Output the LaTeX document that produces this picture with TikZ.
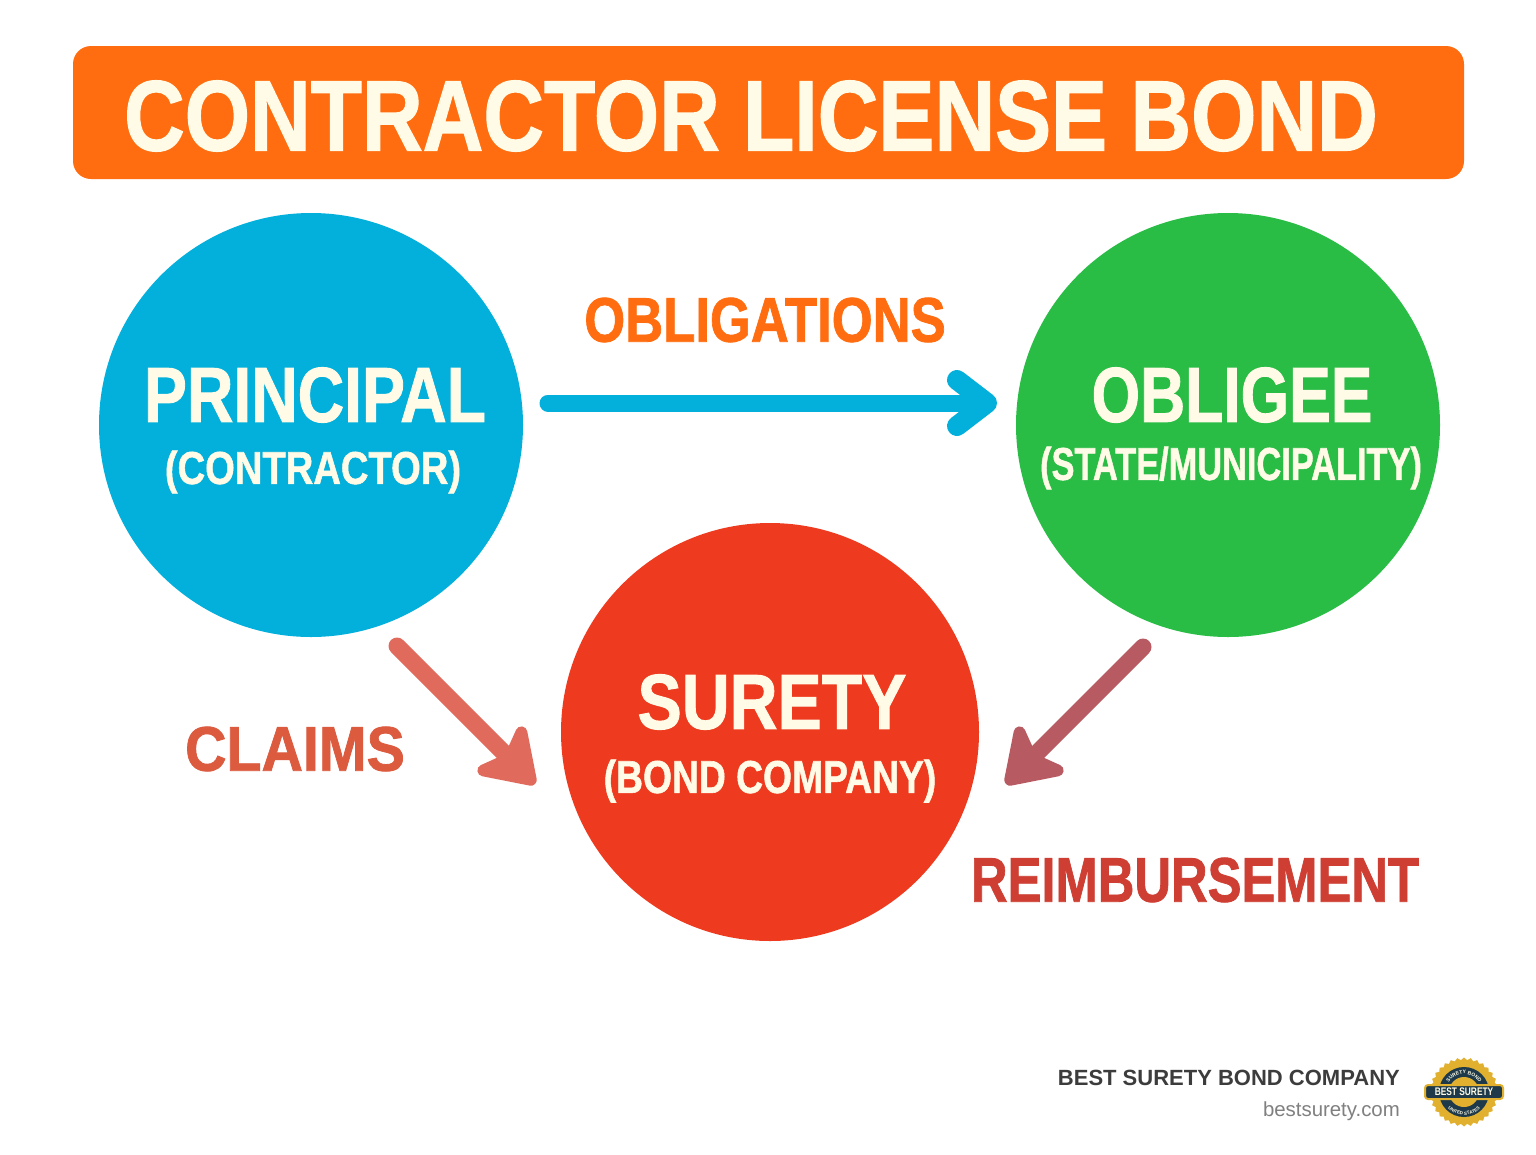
\documentclass[tikz,border=0pt]{standalone}
\usepackage{fontspec}
\setmainfont{Liberation Sans}[BoldFeatures={FakeBold=1.3}]
\newfontfamily\footfont{Liberation Sans}
\usetikzlibrary{arrows.meta}
\usetikzlibrary{shapes.geometric}
\usetikzlibrary{decorations.text}
\definecolor{titleorange}{HTML}{FF6D10}
\definecolor{titlecream}{HTML}{FFFBE6}
\definecolor{princblue}{HTML}{03AFDB}
\definecolor{obligreen}{HTML}{29BD46}
\definecolor{suretyred}{HTML}{EE3B20}
\definecolor{claimred}{HTML}{E06A5C}
\definecolor{claimtext}{HTML}{DC5A3E}
\definecolor{reimbarrow}{HTML}{B85A62}
\definecolor{reimbtext}{HTML}{CE3E32}
\definecolor{footdark}{HTML}{3C3C3C}
\definecolor{footgray}{HTML}{808080}
\definecolor{sealgold}{HTML}{E0B02E}
\definecolor{sealdark}{HTML}{1E3A4A}
\newcommand{\squeeze}[2]{\scalebox{#1}[1]{#2}}
\tikzset{
  party/.style={circle, minimum size=#1, inner sep=0pt},
  bigname/.style={text=titlecream, font=\fontsize{78}{78}\selectfont\bfseries},
  subname/.style={text=titlecream, font=\fontsize{46}{46}\selectfont\bfseries},
  edgename/.style={font=\fontsize{63}{63}\selectfont\bfseries},
  flow/.style={line width=17pt, line cap=round, line join=round, -{Straight Barb[length=30pt,width=46pt,line width=20pt,round]}},
  backflow/.style={line width=17pt, line cap=round, -{Stealth[length=62pt,width=82pt,inset=15pt,line width=12pt,round]}}
}
\begin{document}
\begin{tikzpicture}[x=1pt,y=-1pt]
\useasboundingbox (0,0) rectangle (1536,1154);
\fill[white] (0,0) rectangle (1536,1154);
\fill[titleorange, rounded corners=18pt] (73,46) rectangle (1464,179);
\node (title) at (751,116) [text=titlecream, font=\fontsize{100}{100}\selectfont\bfseries] {\squeeze{.84}{CONTRACTOR LICENSE BOND}};
\node[party=424pt, fill=princblue] (principal) at (311,425) {};
\node[party=424pt, fill=obligreen] (obligee) at (1228,425) {};
\node[party=418pt, fill=suretyred] (surety) at (770,732) {};
\node[bigname] (principalname) at (315,395) {\squeeze{.825}{PRINCIPAL}};
\node[subname] (principalsub) at (313,472) {\squeeze{.83}{(CONTRACTOR)}};
\node[bigname] (obligeename) at (1232,395) {\squeeze{.80}{OBLIGEE}};
\node[subname] (obligeesub) at (1231,468) {\squeeze{.747}{(STATE/MUNICIPALITY)}};
\node[bigname] (suretyname) at (772,702) {\squeeze{.85}{SURETY}};
\node[subname] (suretysub) at (770,781) {\squeeze{.81}{(BOND COMPANY)}};
\coordinate (obstart) at (548,403);
\coordinate (obend) at (997,403);
\coordinate (clstart) at (397,646);
\coordinate (clend) at (535,784);
\coordinate (restart) at (1143,647);
\coordinate (reend) at (1006,784);
\draw[flow, princblue] (obstart) -- (obend);
\draw[backflow, claimred] (clstart) -- (clend);
\draw[backflow, reimbarrow] (restart) -- (reend);
\node[edgename, text=titleorange] (obligations) at (765,320) {\squeeze{.835}{OBLIGATIONS}};
\node[edgename, text=claimtext] (claims) at (295,749) {\squeeze{.91}{CLAIMS}};
\node[edgename, text=reimbtext] (reimbursement) at (1195,880) {\squeeze{.805}{REIMBURSEMENT}};
\node[anchor=east, inner sep=0pt, text=footdark, font=\footfont\fontsize{22}{22}\selectfont\bfseries] (company) at (1400,1078) {BEST SURETY BOND COMPANY};
\node[anchor=east, inner sep=0pt, text=footgray, font=\footfont\fontsize{20.4}{20.4}\selectfont] (site) at (1400,1111) {bestsurety.com};
\node[star, star points=32, star point ratio=1.08, minimum size=69pt, inner sep=0pt, fill=sealgold] (sealrim) at (1464,1092) {};
\fill[sealdark] (1464,1092) circle (25pt);
\fill[sealgold] (1464,1092) circle (15pt);
\path[decorate, decoration={text along path, text align=center, text={|\footfont\fontsize{5}{5}\selectfont\bfseries\color{titlecream}|SURETY BOND}}] (1447,1098) arc[start angle=200, end angle=-20, radius=18pt];
\path[decorate, decoration={text along path, text align=center, text={|\footfont\fontsize{4.5}{4.5}\selectfont\bfseries\color{titlecream}|UNITED STATES}}] (1441,1092) arc[start angle=180, end angle=360, radius=23pt];
\draw[sealgold, fill=sealdark, line width=2pt, rounded corners=3pt] (1425,1085) rectangle (1503,1099);
\node[text=titlecream, inner sep=0pt, font=\footfont\fontsize{11}{11}\selectfont\bfseries] (seal) at (1464,1092) {\squeeze{.76}{BEST SURETY}};
\end{tikzpicture}
\end{document}
